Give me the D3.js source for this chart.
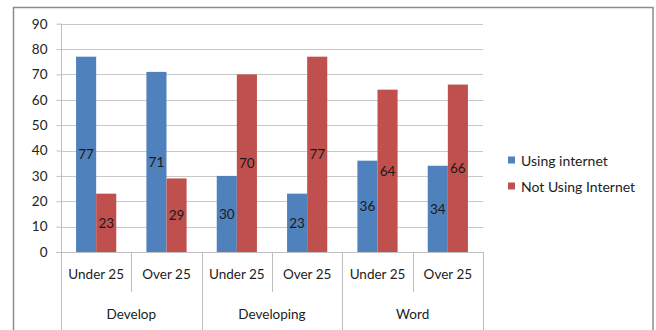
<!DOCTYPE html>
<html><head><meta charset="utf-8">
<script src="https://cdn.jsdelivr.net/npm/d3@7"></script>
<style>body{margin:0;background:#fff}svg{display:block}text{font-family:Lato,"Open Sans",sans-serif}</style>
</head><body><svg id="c" width="656" height="330"></svg>
<script>
const groups = ["Develop", "Developing", "Word"];
const subcats = ["Under 25", "Over 25"];
const seriesNames = ["Using internet", "Not Using Internet"];
const usingInternet = [77, 71, 30, 23, 36, 34];
const notUsingInternet = [23, 29, 70, 77, 64, 66];
const yTicks = [0, 10, 20, 30, 40, 50, 60, 70, 80, 90];
const colors = ["#4F81BD", "#C0504D"];

const svg = d3.select("#c");
const L = 61, R = 483, T = 23.7, B = 252;
const FS = 13.5;
const cats = [];
groups.forEach(g => subcats.forEach(s => cats.push(g + "|" + s)));
const x = d3.scaleBand().domain(cats).range([L, R]);
const xs = d3.scaleBand().domain(seriesNames).range([0, x.bandwidth()]).paddingInner(0).paddingOuter(0.75);
const y = d3.scaleLinear().domain([0, 90]).range([B, T]);

// outer border
svg.append("rect").attr("x", 13.5).attr("y", 7.5).attr("width", 639.5).attr("height", 340)
  .attr("fill", "none").attr("stroke", "#8c8c8c").attr("stroke-width", 1.5);

// gridlines
svg.append("g").selectAll("line").data(yTicks.slice(1)).join("line")
  .attr("x1", L).attr("x2", R).attr("y1", d => Math.round(y(d)) + 0.5).attr("y2", d => Math.round(y(d)) + 0.5)
  .attr("stroke", "#c8c8c8").attr("stroke-width", 1);

// y axis
const ya = svg.append("g").attr("transform", `translate(${L + 0.5},0)`)
  .call(d3.axisLeft(y).tickValues(yTicks).tickSize(5).tickPadding(9).tickFormat(d3.format("d")));
ya.select(".domain").remove();
ya.selectAll(".tick line").attr("stroke", "#bfbfbf");
ya.selectAll(".tick text").attr("font-size", FS).attr("fill", "#222").attr("font-family", "Lato, sans-serif");
svg.append("line").attr("x1", L + 0.5).attr("x2", L + 0.5).attr("y1", T).attr("y2", 330).attr("stroke", "#bfbfbf");

// bars
const data = cats.map((c, i) => ({c, vals: [usingInternet[i], notUsingInternet[i]]}));
const gBars = svg.append("g");
data.forEach(d => {
  d.vals.forEach((v, j) => {
    const bx = x(d.c) + xs(seriesNames[j]);
    gBars.append("rect").attr("x", bx).attr("y", y(v)).attr("width", xs.bandwidth()).attr("height", y(0) - y(v))
      .attr("fill", colors[j]);
    gBars.append("text").attr("x", bx + xs.bandwidth() / 2).attr("y", (y(v) + y(0)) / 2)
      .attr("text-anchor", "middle").attr("dominant-baseline", "central")
      .attr("font-size", FS).attr("fill", "#1a1a1a").text(v);
  });
});

// x axis baseline
svg.append("line").attr("x1", L - 5).attr("x2", R).attr("y1", B + 0.5).attr("y2", B + 0.5).attr("stroke", "#bfbfbf");

// category separators
cats.forEach((c, i) => {
  if (i === 0) return;
  const xx = Math.round(x(c)) + 0.5;
  const groupStart = i % subcats.length === 0;
  svg.append("line").attr("x1", xx).attr("x2", xx).attr("y1", B).attr("y2", groupStart ? 330 : 292)
    .attr("stroke", "#bfbfbf");
});
svg.append("line").attr("x1", R + 0.5).attr("x2", R + 0.5).attr("y1", B).attr("y2", 330).attr("stroke", "#bfbfbf");

// sub-category labels
cats.forEach(c => {
  svg.append("text").attr("x", x(c) + x.bandwidth() / 2).attr("y", 279)
    .attr("text-anchor", "middle").attr("font-size", FS).attr("fill", "#222").text(c.split("|")[1]);
});
// group labels
groups.forEach(g => {
  const x0 = x(g + "|" + subcats[0]);
  svg.append("text").attr("x", x0 + x.bandwidth()).attr("y", 319)
    .attr("text-anchor", "middle").attr("font-size", FS).attr("fill", "#222").text(g);
});

// legend
seriesNames.forEach((s, j) => {
  const ly = 160 + j * 26;
  svg.append("rect").attr("x", 508).attr("y", ly - 3.5).attr("width", 7).attr("height", 7).attr("fill", colors[j]);
  svg.append("text").attr("x", 521).attr("y", ly).attr("dominant-baseline", "central")
    .attr("font-size", 14).attr("fill", "#222").text(s);
});
</script></body></html>
